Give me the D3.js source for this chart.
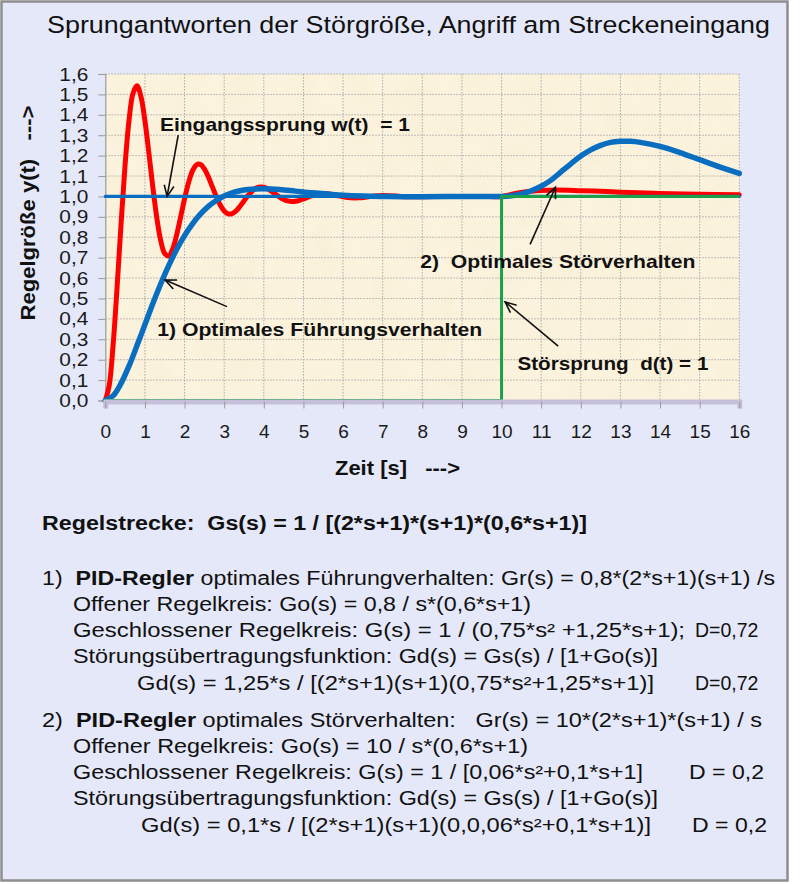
<!DOCTYPE html>
<html><head><meta charset="utf-8">
<script src="https://cdn.jsdelivr.net/npm/d3@7"></script>
<style>
html,body{margin:0;padding:0;background:#fff;}
svg{display:block;}
text{font-family:"Liberation Sans",Arial,sans-serif;white-space:pre;}
</style></head><body>
<svg id="chart" width="800" height="884"></svg>
<script>
// ---------- data ----------
const xTickValues = d3.range(0, 17);
const xTickLabels = ["0","1","2","3","4","5","6","7","8","9","10","11","12","13","14","15","16"];
const yTickValues = d3.range(0, 17).map(i => i / 10);
const yTickLabels = ["0,0","0,1","0,2","0,3","0,4","0,5","0,6","0,7","0,8","0,9","1,0","1,1","1,2","1,3","1,4","1,5","1,6"];

// red: optimal disturbance behaviour (2)
const redT = [0,0.1,0.2,0.3,0.4,0.5,0.6,0.7,0.8,0.9,1.0,1.1,1.2,1.3,1.4,1.5,1.6,1.7,1.8,1.9,2.0,2.1,2.2,2.3,2.4,2.5,2.6,2.7,2.8,2.9,3.0,3.1,3.2,3.3,3.4,3.5,3.6,3.7,3.8,3.9,4.0,4.1,4.2,4.3,4.4,4.5,4.6,4.7,4.8,4.9,5.0,5.2,5.4,5.6,5.8,6.0,6.2,6.4,6.6,6.8,7.0,7.2,7.4,7.6,8.0,8.5,9.0,9.5,10.0,10.25,10.5,10.75,11.0,11.4,12.0,12.5,13.0,14.0,15.0,16.0];
const redY = [0,0.075,0.279,0.563,0.872,1.156,1.375,1.506,1.542,1.489,1.370,1.212,1.045,0.895,0.783,0.720,0.708,0.742,0.811,0.898,0.988,1.067,1.125,1.155,1.157,1.135,1.096,1.048,1.000,0.958,0.929,0.915,0.916,0.929,0.952,0.978,1.004,1.025,1.040,1.046,1.045,1.037,1.024,1.010,0.996,0.985,0.978,0.975,0.976,0.981,0.988,1.003,1.013,1.013,1.006,0.998,0.993,0.993,0.997,1.002,1.004,1.003,1.001,0.999,0.999,1.0,1.0,1.0,1.0,1.010,1.019,1.025,1.029,1.031,1.028,1.025,1.021,1.015,1.011,1.008];

// blue: optimal reference behaviour (1)
const blueT = [0,0.2,0.4,0.6,0.8,1.0,1.2,1.4,1.6,1.8,2.0,2.2,2.4,2.6,2.8,3.0,3.2,3.4,3.6,3.8,4.0,4.4,4.8,5.2,5.6,6.0,6.5,7.0,7.5,8.0,9.0,10.0,10.25,10.5,10.75,11.0,11.25,11.5,11.75,12.0,12.25,12.5,12.75,13.0,13.25,13.5,14.0,14.5,15.0,15.5,16.0];
const blueY = [0,0.024,0.085,0.170,0.269,0.372,0.475,0.572,0.661,0.740,0.808,0.866,0.913,0.951,0.980,1.002,1.018,1.028,1.034,1.037,1.038,1.034,1.026,1.018,1.012,1.006,1.002,1.000,0.999,0.999,1.000,1.000,1.003,1.012,1.028,1.050,1.080,1.120,1.160,1.198,1.228,1.250,1.265,1.270,1.270,1.265,1.245,1.215,1.180,1.145,1.113];

// input step w(t) = 1
const stepWT = [0, 16];
const stepWY = [1, 1];
// disturbance step d(t) = 1 at t = 10
const stepDT = [0, 10, 10, 16];
const stepDY = [0, 0, 1, 1];

// ---------- layout ----------
const svg = d3.select("#chart");
const plot = {left: 105.3, right: 739.3, top: 74, bottom: 400.5};
const x = d3.scaleLinear().domain([0, 16]).range([plot.left, plot.right]);
const y = d3.scaleLinear().domain([0, 1.6]).range([plot.bottom, plot.top]);

// frame
svg.append("rect").attr("x", 1.5).attr("y", 1.5).attr("width", 786).attr("height", 879)
  .attr("fill", "#E5E8F8").attr("stroke", "#8E8E8E").attr("stroke-width", 2.5);

// title
svg.append("text").attr("x", 47).attr("y", 33).attr("font-size", 24.5).attr("fill", "#111")
  .attr("textLength", 723).attr("lengthAdjust", "spacingAndGlyphs")
  .text("Sprungantworten der Störgröße, Angriff am Streckeneingang");

// plot background with a faint parchment texture
const defs = svg.append("defs");
const f = defs.append("filter").attr("id", "parch").attr("x", 0).attr("y", 0).attr("width", 1).attr("height", 1);
f.append("feTurbulence").attr("type", "fractalNoise").attr("baseFrequency", 0.035).attr("numOctaves", 3).attr("seed", 4).attr("result", "n");
f.append("feColorMatrix").attr("in", "n").attr("type", "matrix")
  .attr("values", "0 0 0 0 0.86  0 0 0 0 0.78  0 0 0 0 0.58  0 0 0 -1.1 0.75");
svg.append("rect").attr("x", plot.left).attr("y", plot.top)
  .attr("width", plot.right - plot.left).attr("height", plot.bottom - plot.top)
  .attr("fill", "#FCF3DE");
svg.append("rect").attr("x", plot.left).attr("y", plot.top)
  .attr("width", plot.right - plot.left).attr("height", plot.bottom - plot.top)
  .attr("filter", "url(#parch)").attr("opacity", 0.35);

// grid
const grid = svg.append("g").attr("stroke", "#ABABAB").attr("stroke-width", 1).attr("stroke-dasharray", "1.5,1.5");
grid.selectAll("line.v").data(xTickValues.slice(1)).join("line")
  .attr("x1", d => x(d)).attr("x2", d => x(d)).attr("y1", plot.top).attr("y2", plot.bottom);
grid.selectAll("line.h").data(yTickValues.slice(1)).join("line")
  .attr("y1", d => y(d)).attr("y2", d => y(d)).attr("x1", plot.left).attr("x2", plot.right);

// y axis
const yAxis = d3.axisLeft(y).tickValues(yTickValues).tickSize(7).tickPadding(10)
  .tickFormat((d, i) => yTickLabels[i]);
const gy = svg.append("g").attr("transform", `translate(${plot.left},0)`).call(yAxis);
gy.select(".domain").attr("stroke", "#9A9A9A").attr("stroke-width", 1.2);
gy.selectAll(".tick line").attr("stroke", "#9A9A9A");
gy.selectAll(".tick text").attr("font-size", 19).attr("fill", "#1a1a1a")
  .attr("font-family", "Liberation Sans, Arial, sans-serif")
  .attr("textLength", 29).attr("lengthAdjust", "spacingAndGlyphs");

// curves
const line = d3.line().x(d => x(d[0])).y(d => y(d[1]));
const smooth = d3.line().curve(d3.curveCatmullRom.alpha(0.5)).x(d => x(d[0])).y(d => y(d[1]));
const zip = (a, b) => a.map((v, i) => [v, b[i]]);

const curves = svg.append("g").attr("fill", "none").attr("stroke-linejoin", "round").attr("stroke-linecap", "round");
curves.append("path").attr("d", smooth(zip(redT, redY))).attr("stroke", "#FF0000").attr("stroke-width", 5);
curves.append("path").attr("d", line(zip(stepWT, stepWY))).attr("stroke", "#0A6EC0").attr("stroke-width", 3.2);
curves.append("path").attr("d", smooth(zip(blueT, blueY))).attr("stroke", "#0A6EC0").attr("stroke-width", 5.5);
curves.append("path").attr("d", line(zip(stepDT, stepDY))).attr("stroke", "#1C9E4A").attr("stroke-width", 3)
  .attr("stroke-linecap", "butt");

// x axis (drawn over the curves, so the zero part of d(t) is hidden like in the original)
const xAxis = d3.axisBottom(x).tickValues(xTickValues).tickSize(7).tickPadding(16)
  .tickFormat((d, i) => xTickLabels[i]);
const gx = svg.append("g").attr("transform", `translate(0,${plot.bottom + 1})`).call(xAxis);
gx.select(".domain").attr("stroke", "#C5BFDA").attr("stroke-width", 5);
gx.selectAll(".tick line").attr("stroke", "#9A9A9A");
gx.selectAll(".tick text").attr("font-size", 19).attr("fill", "#1a1a1a")
  .attr("font-family", "Liberation Sans, Arial, sans-serif");

// axis titles
svg.append("text").attr("transform", "translate(35,213) rotate(-90)")
  .attr("text-anchor", "middle").attr("font-size", 20.5).attr("font-weight", "bold").attr("fill", "#111")
  .attr("textLength", 215).attr("lengthAdjust", "spacingAndGlyphs")
  .text("Regelgröße y(t)   --->");
svg.append("text").attr("x", 335).attr("y", 475)
  .attr("font-size", 20.5).attr("font-weight", "bold").attr("fill", "#111")
  .attr("textLength", 125).attr("lengthAdjust", "spacingAndGlyphs")
  .text("Zeit [s]   --->");

// annotations (placed in data units)
const notes = [
  {text: "Eingangssprung w(t)  = 1", t: 1.38, v: 1.323, len: 250, from: [1.84, 1.30], to: [1.56, 1.0]},
  {text: "1) Optimales Führungsverhalten", t: 1.31, v: 0.317, len: 325, from: [3.07, 0.46], to: [1.51, 0.59]},
  {text: "2)  Optimales Störverhalten", t: 7.95, v: 0.65, len: 275, from: [10.72, 0.765], to: [11.36, 1.045]},
  {text: "Störsprung  d(t) = 1", t: 10.4, v: 0.15, len: 191, from: [11.43, 0.267], to: [10.09, 0.483]}
];
const ann = svg.append("g");
notes.forEach(n => {
  ann.append("text").attr("x", x(n.t)).attr("y", y(n.v)).attr("font-size", 19).attr("font-weight", "bold")
    .attr("fill", "#111").attr("textLength", n.len).attr("lengthAdjust", "spacingAndGlyphs").text(n.text);
  const x1 = x(n.from[0]), y1 = y(n.from[1]), x2 = x(n.to[0]), y2 = y(n.to[1]);
  const ang = Math.atan2(y2 - y1, x2 - x1), h = 12, spread = 0.42;
  ann.append("line").attr("x1", x1).attr("y1", y1).attr("x2", x2).attr("y2", y2)
    .attr("stroke", "#111").attr("stroke-width", 1.6);
  ann.append("path")
    .attr("d", `M${x2 - h * Math.cos(ang - spread)},${y2 - h * Math.sin(ang - spread)}L${x2},${y2}L${x2 - h * Math.cos(ang + spread)},${y2 - h * Math.sin(ang + spread)}`)
    .attr("fill", "none").attr("stroke", "#111").attr("stroke-width", 1.6);
});

// formula block (len = null keeps the natural width)
const formulaLines = [
  {x: 42, y: 530, len: 545, parts: [["Regelstrecke:  Gs(s) = 1 / [(2*s+1)*(s+1)*(0,6*s+1)]", true]]},
  {x: 42, y: 585, len: 733, parts: [["1)  ", false], ["PID-Regler", true], [" optimales Führungverhalten: Gr(s) = 0,8*(2*s+1)(s+1) /s", false]]},
  {x: 73, y: 611, len: 458, parts: [["Offener Regelkreis: Go(s) = 0,8 / s*(0,6*s+1)", false]]},
  {x: 73, y: 637, len: 612, parts: [["Geschlossener Regelkreis: G(s) = 1 / (0,75*s² +1,25*s+1);", false]]},
  {x: 695, y: 637, len: null, parts: [["D=0,72", false]]},
  {x: 73, y: 663, len: 585, parts: [["Störungsübertragungsfunktion: Gd(s) = Gs(s) / [1+Go(s)]", false]]},
  {x: 137, y: 690, len: 517, parts: [["Gd(s) = 1,25*s / [(2*s+1)(s+1)(0,75*s²+1,25*s+1)]", false]]},
  {x: 695, y: 690, len: null, parts: [["D=0,72", false]]},
  {x: 42, y: 727, len: 720, parts: [["2)  ", false], ["PID-Regler", true], [" optimales Störverhalten:   Gr(s) = 10*(2*s+1)*(s+1) / s", false]]},
  {x: 73, y: 753, len: 455, parts: [["Offener Regelkreis: Go(s) = 10 / s*(0,6*s+1)", false]]},
  {x: 73, y: 779, len: 570, parts: [["Geschlossener Regelkreis: G(s) = 1 / [0,06*s²+0,1*s+1]", false]]},
  {x: 689, y: 779, len: 75, parts: [["D = 0,2", false]]},
  {x: 73, y: 805, len: 585, parts: [["Störungsübertragungsfunktion: Gd(s) = Gs(s) / [1+Go(s)]", false]]},
  {x: 141, y: 832, len: 510, parts: [["Gd(s) = 0,1*s / [(2*s+1)(s+1)(0,0,06*s²+0,1*s+1)]", false]]},
  {x: 692, y: 832, len: 75, parts: [["D = 0,2", false]]}
];
const fb = svg.append("g");
formulaLines.forEach(l => {
  const t = fb.append("text").attr("x", l.x).attr("y", l.y).attr("font-size", 19.5).attr("fill", "#111");
  if (l.len) t.attr("textLength", l.len).attr("lengthAdjust", "spacingAndGlyphs");
  l.parts.forEach(p => t.append("tspan").attr("font-weight", p[1] ? "bold" : "normal").text(p[0]));
});
</script>
</body></html>
